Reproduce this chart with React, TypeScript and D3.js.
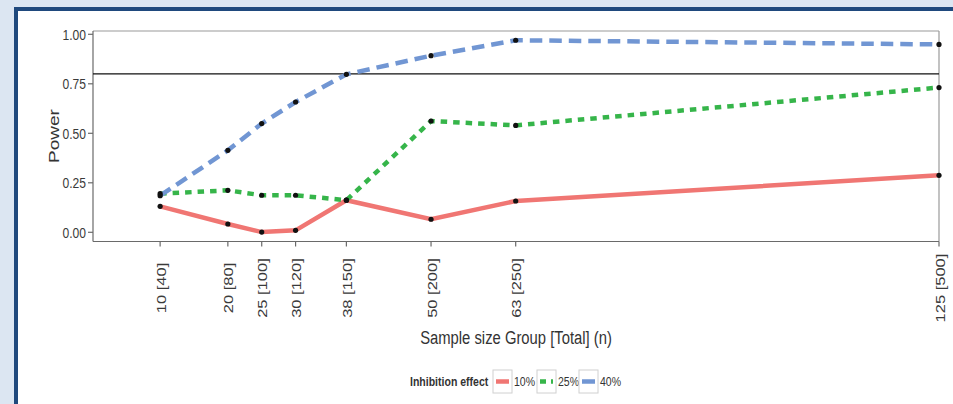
import React from "react";
import * as d3 from "d3";

const groups = [10, 20, 25, 30, 37.5, 50, 62.5, 125];
const tickLabels = ["10 [40]", "20 [80]", "25 [100]", "30 [120]", "38 [150]", "50 [200]", "63 [250]", "125 [500]"];
const power10 = [0.131, 0.042, 0.001, 0.01, 0.162, 0.066, 0.158, 0.288];
const power25 = [0.195, 0.212, 0.187, 0.187, 0.162, 0.562, 0.54, 0.731];
const power40 = [0.185, 0.414, 0.549, 0.658, 0.798, 0.892, 0.97, 0.949];
const yTicks = [0, 0.25, 0.5, 0.75, 1];
const seriesNames = ["10%", "25%", "40%"];
const threshold = 0.8;

const W = 953;
const H = 404;
const FONT = "'Liberation Sans', Arial, sans-serif";
const SX = 0.78;

const series = [
  { name: seriesNames[0], values: power10, color: "#f07673", dash: "none" },
  { name: seriesNames[1], values: power25, color: "#36b54a", dash: "6.5,6" },
  { name: seriesNames[2], values: power40, color: "#7196d3", dash: "12.5,7" },
];

export default function App() {
  const left = 93, right = 939, top = 31, bottom = 241.5;
  const x = d3.scaleLinear().domain([0, 125]).range([92.4, 939]);
  const y = d3.scaleLinear().domain([0, 1]).range([232.3, 34.3]);
  const line = d3.line<number>().x((_, i) => x(groups[i])).y((v) => y(v));

  const legendItems = [
    { box: 493, text: 514 },
    { box: 537, text: 558 },
    { box: 579, text: 600 },
  ];

  return (
    <svg width={W} height={H} style={{ position: "absolute", left: 0, top: 0 }} fontFamily={FONT}>
      <rect x={0} y={0} width={W} height={H} fill="#dce6f2" />
      <rect x={14} y={7} width={W - 14} height={H - 7} fill="#1f497d" />
      <rect x={18} y={11} width={W - 18} height={H - 11} fill="#ffffff" />

      {/* panel border */}
      <line x1={left} x2={right} y1={top} y2={top} stroke="#9a9a9a" strokeWidth={1.2} />
      <line x1={right} x2={right} y1={top} y2={bottom} stroke="#9a9a9a" strokeWidth={1.2} />
      <line x1={left} x2={left} y1={top} y2={bottom} stroke="#6a6a6a" strokeWidth={1.2} />
      <line x1={left} x2={right} y1={bottom} y2={bottom} stroke="#6a6a6a" strokeWidth={1.2} />

      {/* y axis ticks */}
      {yTicks.map((t) => (
        <g key={"y" + t}>
          <line x1={left - 5} x2={left} y1={y(t)} y2={y(t)} stroke="#6a6a6a" strokeWidth={1.2} />
          <text
            transform={`translate(${left - 7},${y(t) + 5.5}) scale(${SX},1)`}
            textAnchor="end"
            fontSize={15.5}
            fill="#3a3a3a"
          >
            {d3.format(".2f")(t)}
          </text>
        </g>
      ))}

      {/* x axis ticks */}
      {groups.map((g, i) => (
        <g key={"x" + i}>
          <line x1={x(g)} x2={x(g)} y1={bottom} y2={bottom + 5} stroke="#6a6a6a" strokeWidth={1.2} />
          <text
            transform={`translate(${x(g) + 5.5},288) scale(${SX},1) rotate(-90)`}
            textAnchor="middle"
            fontSize={16.5}
            fill="#3a3a3a"
          >
            {tickLabels[i]}
          </text>
        </g>
      ))}

      {/* threshold */}
      <line x1={left} x2={right} y1={y(threshold)} y2={y(threshold)} stroke="#111" strokeWidth={1.4} />

      {/* series */}
      {series.map((s) => (
        <path
          key={s.name}
          d={line(s.values) || ""}
          fill="none"
          stroke={s.color}
          strokeWidth={4.5}
          strokeDasharray={s.dash}
        />
      ))}
      {series.map((s) =>
        s.values.map((v, i) => (
          <circle key={s.name + i} cx={x(groups[i])} cy={y(v)} r={2.6} fill="#111" />
        ))
      )}

      {/* axis titles */}
      <text
        transform={`translate(59,136) scale(${SX},1) rotate(-90)`}
        textAnchor="middle"
        fontSize={19}
        fill="#333"
      >
        Power
      </text>
      <text
        transform={`translate(516,344) scale(${SX},1)`}
        textAnchor="middle"
        fontSize={19}
        fill="#333"
      >
        Sample size Group [Total] (n)
      </text>

      {/* legend */}
      <text transform={`translate(410,386) scale(${SX},1)`} fontSize={13.5} fontWeight="bold" fill="#333">
        Inhibition effect
      </text>
      {series.map((s, i) => (
        <g key={"lg" + s.name}>
          <rect x={legendItems[i].box} y={370} width={19} height={23} fill="#fff" stroke="#d0d0d0" strokeWidth={1} />
          <line
            x1={legendItems[i].box + 3}
            x2={legendItems[i].box + 16}
            y1={381.5}
            y2={381.5}
            stroke={s.color}
            strokeWidth={4.5}
            strokeDasharray={s.dash === "none" ? "none" : i === 1 ? "6,5" : "none"}
          />
          <text transform={`translate(${legendItems[i].text},386) scale(${SX},1)`} fontSize={13.5} fill="#333">
            {s.name}
          </text>
        </g>
      ))}
    </svg>
  );
}
